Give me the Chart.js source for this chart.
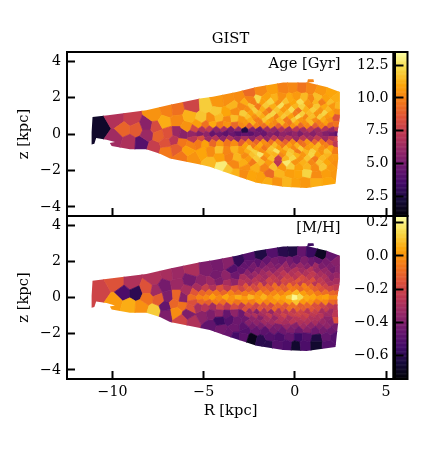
<!DOCTYPE html>
<html><head><meta charset="utf-8">
<style>html,body{margin:0;padding:0;background:#fff}canvas{position:absolute;left:0;top:0}</style>
<script src="https://cdn.jsdelivr.net/npm/chart.js@4/dist/chart.umd.js"></script>
</head><body>
<canvas id="top" width="431" height="451"></canvas>
<canvas id="bot" width="431" height="451"></canvas>
<script>
// Cells (one line per band)
const cellR=[
-10.66,-9.8,-8.95,-9.4,-8.7,-9.87,-9.1,-8.4,-8.1,-8.1,-7.7,-7.7,-7.63,-7.45,-6.95,-7.15,-6.95,-7.05,-7.1,-6.5,-6.45,-6.45,-6.6,-6.2,-6.5,-6.2,-5.6,-5.6,-6.15,-5.7,-4.85,-5.05,-4.6,-4.05,-3.6,-4.25,-3.6,-5.9,-5.75,-5.85,
-2.5,-1.83,-1.2,-0.64,-0.1,0.4,0.86,1.41,2.0,
-3.05,-2.52,-1.98,-1.57,-1.08,-0.72,-0.28,0.13,0.48,0.93,1.27,1.72,2.2,
-2.75,-2.3,-1.8,-1.33,-0.9,-0.5,-0.08,0.3,0.72,1.12,1.5,1.95,
-3.42,-2.86,-2.38,-2.02,-1.58,-1.22,-0.78,-0.42,0.02,0.38,0.83,1.18,1.63,2.03,2.4,
-2.6,-2.2,-1.78,-1.4,-1,-0.6,-0.2,0.2,0.6,1,1.42,1.8,
-4.32,-3.73,-3.27,-2.78,-2.42,-1.98,-1.62,-1.18,-0.82,-0.38,0.03,0.38,0.82,1.18,1.62,1.98,2.35,
-2.6,-2.2,-1.8,-1.42,-1.02,-0.62,-0.22,0.18,0.58,0.98,1.38,1.78,
-5.12,-4.58,-4.17,-3.68,-3.32,-2.88,-2.48,-2.12,-1.68,-1.32,-0.88,-0.52,-0.08,0.28,0.72,1.08,1.52,1.88,2.3,
-2.7,-2.3,-1.9,-1.5,-1.1,-0.7,-0.3,0.1,0.5,0.9,1.3,1.7,
-5.32,-4.88,-4.52,-4.08,-3.72,-3.28,-2.92,-2.48,-2.12,-1.68,-1.32,-0.88,-0.52,-0.08,0.32,0.68,1.12,1.48,1.92,2.3,
-5.5,-5.1,-4.7,-4.3,-3.9,-3.5,-3.1,-2.75,-2.35,-1.95,-1.55,-1.15,-0.75,-0.35,0.05,0.45,0.85,1.25,1.65,2.05,2.35,
-5.6,-5.2,-4.85,-4.5,-4.15,-3.8,-3.45,-3.1,-2.75,-2.4,-2.05,-1.7,-1.35,-1,-0.65,-0.3,0,0.3,0.65,1,1.35,1.7,2.05,2.3,
-5.55,-5.15,-4.75,-4.35,-3.95,-3.55,-3.15,-2.75,-2.35,-1.95,-1.55,-1.15,-0.75,-0.35,0.05,0.45,0.85,1.25,1.65,2.05,2.35,
-5.3,-4.9,-4.5,-4.1,-3.7,-3.3,-2.9,-2.5,-2.1,-1.7,-1.3,-0.9,-0.5,-0.1,0.3,0.7,1.1,1.5,1.9,2.3,
-2.72,-2.28,-1.92,-1.48,-1.12,-0.68,-0.32,0.12,0.48,0.92,1.28,1.72,
-4.62,-4.13,-3.72,-3.28,-2.92,-2.48,-2.12,-1.68,-1.32,-0.88,-0.52,-0.08,0.32,0.68,1.12,1.48,1.92,2.25,
-2.58,-2.2,-1.82,-1.4,-1,-0.62,-0.2,0.18,0.6,1,1.42,1.78,
-4.12,-3.58,-3.17,-2.68,-2.32,-1.88,-1.52,-1.08,-0.72,-0.28,0.12,0.48,0.92,1.28,1.77,2.25,
-2.55,-2.12,-1.7,-1.3,-0.9,-0.5,-0.1,0.3,0.7,1.1,1.52,1.95,
-3.3,-2.8,-2.3,-1.85,-1.4,-0.95,-0.45,0,0.45,0.9,1.35,1.75,2.25,
-2.7,-2.15,-1.65,-1.18,-0.7,-0.22,0.22,0.68,1.12,1.55,2,
-3.3,-2.75,-2.38,-1.83,-1.4,-0.85,-0.25,0.2,0.65,1.2,1.75,2.2,
-1.5,-0.95,-0.4,0.05,0.55,1.2,1.8];
const cellZ=[
0.3,0.8,0.8,0.24,0.24,-0.25,-0.45,-0.5,0.47,-0.04,-0.72,1.03,0.38,-0.1,1.25,0.66,0.02,-0.9,-0.5,1.3,0.75,0.07,-0.35,-0.45,-0.8,-1.25,-1.3,1.5,0,-0.6,1.55,-1,-1.55,-1.72,-2,1.75,1.85,0.4,0.95,-0.9,
2.2,2.3,2.45,2.52,2.58,2.55,2.52,2.3,2.2,
1.98,1.9,1.85,2.0,1.92,1.98,1.88,2.0,1.93,1.86,2.0,1.9,1.95,
1.72,1.7,1.78,1.74,1.7,1.77,1.72,1.76,1.7,1.75,1.72,1.7,
1.58,1.5,1.52,1.46,1.54,1.48,1.56,1.5,1.52,1.46,1.55,1.5,1.46,1.55,1.5,
1.33,1.28,1.34,1.3,1.27,1.34,1.3,1.27,1.33,1.3,1.27,1.33,
1.2,1.12,1.18,1.1,1.14,1.08,1.14,1.1,1.08,1.14,1.1,1.06,1.12,1.08,1.14,1.1,1.2,
0.94,0.9,0.96,0.92,0.95,0.9,0.96,0.92,0.9,0.95,0.92,0.96,
0.85,0.82,0.88,0.8,0.85,0.78,0.76,0.78,0.74,0.77,0.75,0.78,0.74,0.76,0.78,0.74,0.77,0.75,0.9,
0.62,0.6,0.64,0.6,0.63,0.6,0.62,0.6,0.64,0.6,0.62,0.6,
0.5,0.48,0.52,0.46,0.5,0.44,0.47,0.44,0.46,0.44,0.47,0.44,0.46,0.44,0.47,0.44,0.46,0.44,0.48,0.5,
0.24,0.2,0.26,0.2,0.24,0.2,0.24,0.15,0.22,0.2,0.26,0.2,0.24,0.2,0.26,0.2,0.24,0.2,0.26,0.2,0.24,
-0.02,0,-0.04,0.02,-0.03,0.03,-0.02,0.02,-0.04,0.03,-0.02,0.02,-0.04,0.02,-0.03,0.02,-0.02,0.02,-0.04,0.02,-0.03,0.02,-0.02,0,
-0.27,-0.24,-0.28,-0.24,-0.27,-0.24,-0.28,-0.24,-0.27,-0.24,-0.28,-0.24,-0.27,-0.24,-0.28,-0.24,-0.27,-0.24,-0.28,-0.24,-0.27,
-0.5,-0.52,-0.48,-0.5,-0.46,-0.5,-0.47,-0.45,-0.47,-0.45,-0.48,-0.45,-0.47,-0.45,-0.48,-0.45,-0.47,-0.45,-0.48,-0.55,
-0.63,-0.66,-0.62,-0.65,-0.62,-0.66,-0.63,-0.65,-0.62,-0.66,-0.63,-0.65,
-0.92,-0.88,-0.94,-0.86,-0.9,-0.8,-0.8,-0.78,-0.82,-0.78,-0.8,-0.78,-0.82,-0.78,-0.8,-0.78,-0.82,-0.92,
-0.97,-1,-0.96,-1,-0.97,-1,-0.96,-0.99,-1,-0.96,-1,-0.97,
-1.28,-1.22,-1.3,-1.18,-1.14,-1.12,-1.16,-1.12,-1.15,-1.12,-1.16,-1.12,-1.15,-1.12,-1.16,-1.3,
-1.36,-1.38,-1.34,-1.37,-1.34,-1.38,-1.35,-1.37,-1.34,-1.38,-1.35,-1.37,
-1.68,-1.62,-1.56,-1.54,-1.56,-1.6,-1.58,-1.54,-1.57,-1.54,-1.58,-1.55,-1.6,
-1.85,-1.8,-1.82,-1.78,-1.82,-1.78,-1.82,-1.78,-1.82,-1.78,-1.85,
-2.15,-2.15,-2.27,-2.4,-2.15,-2.15,-2.15,-2.15,-2.15,-2.27,-2.15,-2.15,
-2.65,-2.65,-2.65,-2.7,-2.65,-2.63,-2.65];
const cellAge=[
1.9,6.9,7.6,9.1,8.8,6.4,6.8,4.1,5.7,6.2,7.6,10.5,8.2,9,10,11.2,8.5,9.75,8.5,9.5,10.2,6.2,7.2,9.7,8.9,9.7,10.5,7.9,5.7,10,12,11,11.5,12.9,11.8,10.6,10.4,10.5,11.3,10.9,
9.3,10.2,10.8,10,10.2,9.6,10.1,10.6,11,
10.3,10,12.3,10.9,11.3,10.4,11.1,10.7,11.5,10.2,11.6,10.9,11.2,
11.2,9.9,10.8,12.2,10.4,11.7,11,12.4,10.6,11.4,9.9,11.6,
11.4,10.2,11.8,9.8,11.9,11.2,12.5,10.6,11.4,12.1,10.4,11.8,11.1,10.6,11.4,
10.4,12,11.2,9.7,11.8,10.7,12.4,9.6,11.3,12,10.5,11.5,
11.9,11,10.3,12,10.8,11.6,10.2,12.2,11.3,11.7,9.9,12,11.5,10.5,12.2,11,10.4,
11.7,10.4,11.2,12.1,10.1,11.9,10.8,12.5,10.2,11.6,12,10.7,
11.8,10.4,11.5,10.2,11.6,10.6,11.2,9.9,11.8,10.7,11.4,9.8,11.9,10.6,11.5,10.3,11.2,10.4,8.6,
10.6,11.3,9.8,11,10.2,11.4,9.6,11.1,10.4,11.5,9.9,10.8,
10.8,9.5,11.1,9.9,10.5,9.2,10.2,8.8,10,9.4,10.3,9,9.9,10.4,9.2,10.1,8.9,9.9,9.2,9.6,
8.1,6.9,7.5,5.8,6.6,5.2,5.9,2.6,5.6,4.8,6.4,6.1,6.9,6.2,7.2,6.5,7.4,6.3,7,6.1,7.6,
6,5.4,5.9,4.6,4.9,4.4,4.8,4.2,4.6,4.3,5,4.7,5.6,5.2,5.9,5.5,6,5.3,6.1,5.6,6.2,5.5,5,4.5,
7.2,8.3,6.3,7.1,5.9,6.8,5.6,6.7,5.8,7,6,7.4,6.5,7.1,6.2,7.3,6.6,7.5,6.3,7.2,8,
9.8,10.9,9.2,10.6,9.7,10.3,8.9,10,9.1,10.4,9.6,10.1,9,10.2,9.4,10.5,9.1,9.8,8.7,7.3,
10.9,9.8,11.1,10.2,11.5,9.7,10.8,11.3,9.6,10.9,11.4,10,
10.3,11.7,10.1,11.4,10.6,12,10.9,9.7,11.8,10.8,11.5,10.2,11.9,10.7,11.3,10.4,11,9.8,
11.3,12.1,10.4,11.5,12.6,10.7,11.8,9.8,11.4,12.1,10.5,11.7,
10.9,10,11.4,10.3,11.7,12.7,10.8,11.4,10.2,12,11.3,10.6,12.2,10.9,11.4,10.6,
10.7,11.9,10.2,11.6,7.6,11.4,12.2,10.5,11.8,9.8,11.5,10.6,
10.2,11.2,9.8,11.6,10.7,7.2,12.8,10.5,11.3,10.2,11.8,11,10.4,
10.4,11.3,10.1,11.7,10.6,12,10.9,11.4,10.3,11.9,10.7,
11.3,10.3,11,10.9,9.3,11.4,10.8,11,12.2,10.3,10.8,10.6,
11.2,10.5,11.4,10.9,10.6,11.2,11];
const cellMH=[
-0.2,-0.15,-0.28,-0.52,-0.59,0.02,0.06,0,-0.15,-0.07,0.12,-0.28,-0.32,-0.12,-0.3,-0.42,-0.4,-0.4,-0.46,-0.33,-0.33,-0.1,-0.1,-0.07,-0.01,-0.2,-0.28,-0.29,-0.38,-0.15,-0.4,-0.37,-0.47,-0.43,-0.45,-0.42,-0.38,-0.3,-0.42,-0.4,
-0.5,-0.62,-0.5,-0.6,-0.62,-0.46,-0.56,-0.68,-0.46,
-0.58,-0.47,-0.48,-0.46,-0.42,-0.44,-0.42,-0.46,-0.4,-0.44,-0.46,-0.42,-0.38,
-0.46,-0.42,-0.42,-0.38,-0.4,-0.34,-0.38,-0.34,-0.38,-0.32,-0.4,-0.4,
-0.5,-0.45,-0.43,-0.38,-0.36,-0.36,-0.3,-0.34,-0.28,-0.32,-0.27,-0.34,-0.34,-0.42,-0.38,
-0.37,-0.33,-0.32,-0.28,-0.3,-0.25,-0.28,-0.24,-0.28,-0.24,-0.3,-0.34,
-0.42,-0.36,-0.44,-0.3,-0.36,-0.28,-0.32,-0.24,-0.28,-0.22,-0.26,-0.18,-0.24,-0.28,-0.28,-0.36,-0.34,
-0.28,-0.26,-0.3,-0.2,-0.24,-0.18,-0.2,-0.14,-0.2,-0.16,-0.24,-0.3,
-0.36,-0.33,-0.4,-0.3,-0.36,-0.26,-0.3,-0.24,-0.28,-0.22,-0.26,-0.2,-0.17,-0.22,-0.18,-0.26,-0.24,-0.3,-0.3,
-0.14,-0.18,-0.12,-0.14,-0.08,-0.12,-0.06,-0.08,-0.04,-0.1,-0.14,-0.2,
-0.3,-0.22,-0.28,-0.16,-0.24,-0.14,-0.2,-0.12,-0.18,-0.1,-0.14,-0.08,-0.12,-0.06,-0.1,-0.05,-0.12,-0.16,-0.2,-0.24,
-0.14,-0.1,-0.08,-0.05,-0.1,-0.03,-0.08,-0.04,-0.05,0,-0.06,-0.02,-0.03,0.02,0.08,0.03,-0.02,-0.05,-0.08,-0.1,-0.12,
-0.08,-0.03,-0.02,0.03,-0.02,0.05,0,0.06,0.02,0.08,0.02,0.07,0.01,0.06,0.04,0.12,0.22,0.15,0.06,0.05,0.02,0.04,-0.02,-0.02,
-0.16,-0.1,-0.12,-0.05,-0.08,-0.02,-0.07,-0.01,-0.04,0.02,-0.03,0.01,0,0.05,0.1,0.02,0.01,-0.05,-0.02,-0.09,-0.12,
-0.3,-0.26,-0.32,-0.2,-0.26,-0.18,-0.24,-0.14,-0.2,-0.16,-0.18,-0.1,-0.14,-0.08,-0.12,-0.1,-0.16,-0.2,-0.24,-0.26,
-0.16,-0.2,-0.14,-0.16,-0.1,-0.14,-0.08,-0.1,-0.12,-0.14,-0.16,-0.22,
-0.4,-0.34,-0.46,-0.36,-0.44,-0.33,-0.38,-0.28,-0.34,-0.27,-0.25,-0.24,-0.2,-0.26,-0.22,-0.3,-0.32,-0.25,
-0.3,-0.28,-0.3,-0.24,-0.26,-0.2,-0.22,-0.2,-0.2,-0.24,-0.26,-0.32,
-0.56,-0.5,-0.44,-0.44,-0.36,-0.38,-0.3,-0.34,-0.26,-0.3,-0.26,-0.24,-0.28,-0.28,-0.36,-0.16,
-0.38,-0.36,-0.32,-0.32,-0.28,-0.3,-0.26,-0.28,-0.28,-0.3,-0.34,-0.38,
-0.44,-0.48,-0.42,-0.4,-0.36,-0.4,-0.34,-0.38,-0.32,-0.36,-0.38,-0.36,-0.42,
-0.5,-0.46,-0.48,-0.42,-0.44,-0.4,-0.44,-0.38,-0.44,-0.42,-0.44,
-0.54,-0.48,-0.7,-0.6,-0.5,-0.52,-0.46,-0.55,-0.5,-0.62,-0.46,-0.5,
-0.6,-0.5,-0.52,-0.66,-0.52,-0.66,-0.5];
// Outline of the binned region
const edgeR=[-11.15,-11.1,-10.25,-8.15,-6.85,-5.2,-4.5,-3.2,-2.1,-0.64,0.68,0.72,1.02,1.05,0.72,1.74,2.47,2.47,2.33,2.38,2.23,0.64,-0.64,-2.1,-3.57,-4.67,-5.2,-6.85,-7.4,-8.15,-9.05,-10.05,-10.15,-9.87,-10.33,-10.9,-11,-11.15];
const edgeZ=[0.1,0.93,1.03,1.3,1.6,1.95,2.05,2.3,2.58,2.82,2.83,3.0,3.0,2.86,2.83,2.58,2.3,0.9,0,-1.35,-2.73,-2.96,-2.9,-2.67,-2.18,-1.8,-1.68,-1.35,-1.08,-0.84,-0.84,-0.66,-0.5,-0.44,-0.31,-0.22,-0.53,-0.57];
const xTicks=[-10,-5,0,5];
const zTicks=[-4,-2,0,2,4];
const ageTicks=[2.5,5,7.5,10,12.5];
const mhTicks=[-0.6,-0.4,-0.2,0,0.2];
const ageRange=[1,13.5];
const mhRange=[-0.74,0.24];
const xLabel='R [kpc]', zLabel='z [kpc]', title='GIST';

if(cellR.length!==cellZ.length||cellR.length!==cellAge.length||cellR.length!==cellMH.length)
  throw new Error('lengths '+[cellR.length,cellZ.length,cellAge.length,cellMH.length]);

const INFERNO=['#000004','#160b39','#420a68','#6a176e','#932667','#bc3754','#dd513a','#f37819','#fca50a','#f6d746','#fcffa4']
  .map(h=>[1,3,5].map(i=>parseInt(h.substr(i,2),16)));
function inferno(t){t=Math.min(1,Math.max(0,t))*10;const i=Math.min(9,Math.floor(t)),f=t-i,a=INFERNO[i],b=INFERNO[i+1];
  return 'rgb('+[0,1,2].map(k=>Math.round(a[k]+(b[k]-a[k])*f)).join(',')+')';}
const FONT='"DejaVu Serif"', FS=14.2, TS=14.7;
const fmt=v=>(v<0?'\u2212':'')+Math.abs(v);
const fmt1=v=>(v<0?'\u2212':'')+Math.abs(v).toFixed(1);

class CellController extends Chart.ScatterController{
  draw(){
    const ctx=this.chart.ctx,meta=this.getMeta(),area=this.chart.chartArea;
    const sx=this.chart.scales.x,sy=this.chart.scales.y;
    const ds=this.getDataset(),[lo,hi]=ds.range;
    const pts=meta.data.map((e,i)=>({x:e.x,y:e.y,v:ds.data[i].v}));
    ctx.save();ctx.beginPath();
    edgeR.forEach((r,i)=>{const px=sx.getPixelForValue(r),py=sy.getPixelForValue(edgeZ[i]);i?ctx.lineTo(px,py):ctx.moveTo(px,py);});
    ctx.closePath();ctx.clip();
    pts.forEach((p,i)=>{
      let poly=[[area.left,area.top],[area.right,area.top],[area.right,area.bottom],[area.left,area.bottom]];
      pts.forEach((q,j)=>{
        if(i===j||!poly.length)return;
        const mx=(p.x+q.x)/2,my=(p.y+q.y)/2,nx=q.x-p.x,ny=q.y-p.y,out=[];
        for(let k=0;k<poly.length;k++){
          const a=poly[k],b=poly[(k+1)%poly.length];
          const da=(a[0]-mx)*nx+(a[1]-my)*ny,db=(b[0]-mx)*nx+(b[1]-my)*ny;
          if(da<=0)out.push(a);
          if((da<0&&db>0)||(da>0&&db<0)){const t=da/(da-db);out.push([a[0]+(b[0]-a[0])*t,a[1]+(b[1]-a[1])*t]);}
        }
        poly=out;
      });
      if(!poly.length)return;
      const c=inferno((p.v-lo)/(hi-lo));
      ctx.beginPath();poly.forEach((a,k)=>k?ctx.lineTo(a[0],a[1]):ctx.moveTo(a[0],a[1]));ctx.closePath();
      ctx.fillStyle=c;ctx.strokeStyle=c;ctx.lineWidth=0.7;ctx.fill();ctx.stroke();
    });
    ctx.restore();
  }
}
CellController.id='cells';
CellController.defaults=Chart.ScatterController.defaults;
CellController.overrides=Chart.ScatterController.overrides;
Chart.register(CellController);

const decor={
  id:'decor',
  afterLayout(chart){const cb=chart.scales.cb;cb.left=395.5;cb.right=407.5;},
  beforeDraw(chart){
    const cb=chart.scales.cb,[lo,hi]=chart.options.plugins.decor.range,ctx=chart.ctx;
    for(let i=0;i<200;i++){
      const v0=lo+(hi-lo)*i/200,v1=lo+(hi-lo)*(i+1)/200;
      const y0=cb.getPixelForValue(v0),y1=cb.getPixelForValue(v1);
      ctx.fillStyle=inferno((i+0.5)/200);
      ctx.fillRect(395.5,y1,12,y0-y1+0.5);
    }
  },
  afterDatasetsDraw(chart){
    const ctx=chart.ctx,a=chart.chartArea;
    ctx.save();ctx.strokeStyle='#000';ctx.lineWidth=2;
    ctx.strokeRect(a.left,a.top,a.right-a.left,a.bottom-a.top);
    ctx.strokeRect(395,a.top,12.5,a.bottom-a.top);
    ctx.restore();
  },
  afterDraw(chart){
    const ctx=chart.ctx;
    ctx.save();ctx.fillStyle='#000';ctx.font=TS+'px '+FONT;
    chart.options.plugins.decor.texts.forEach(t=>{
      ctx.save();ctx.translate(t.x,t.y);if(t.rot)ctx.rotate(t.rot);
      ctx.textAlign=t.align||'center';ctx.textBaseline='alphabetic';ctx.fillText(t.s,0,0);ctx.restore();
    });
    ctx.restore();
  }
};

function panel(id,values,range,cbTicks,texts,padTop,padBottom,showX){
  const forced=w=>s=>{s.width=w;};
  const tickOpts={tickLength:-8,tickWidth:2,tickColor:'#000',drawOnChartArea:false};
  return new Chart(document.getElementById(id),{
    data:{datasets:[{type:'cells',range,pointRadius:0,xAxisID:'x',yAxisID:'y',
      data:cellR.map((r,i)=>({x:r,y:cellZ[i],v:values[i]}))}]},
    options:{
      responsive:false,animation:false,events:[],
      layout:{autoPadding:false,padding:{left:0,right:23.7,top:padTop,bottom:showX?0:padBottom}},
      plugins:{legend:{display:false},tooltip:{enabled:false},decor:{range,texts}},
      scales:{
        x:{type:'linear',axis:'x',position:'bottom',min:-12.5,max:5.4,
          border:{display:false},grid:tickOpts,
          ticks:{display:showX,autoSkip:false,maxRotation:0,padding:13,color:'#000',font:{family:FONT,size:FS},callback:fmt},
          afterBuildTicks:s=>{s.ticks=xTicks.map(value=>({value}));},
          afterFit:s=>{s.height=showX?padBottom:0;}},
        y:{type:'linear',axis:'y',position:'left',min:-4.5,max:4.5,
          border:{display:false},grid:tickOpts,
          ticks:{autoSkip:false,padding:14,color:'#000',font:{family:FONT,size:FS},callback:fmt},
          afterBuildTicks:s=>{s.ticks=zTicks.map(value=>({value}));},
          afterFit:forced(67)},
        cb:{type:'linear',axis:'y',position:'right',min:range[0],max:range[1],
          border:{display:false},
          grid:{tickLength:8,tickWidth:2,tickColor:'#000',drawOnChartArea:false},
          ticks:{mirror:true,autoSkip:false,padding:-7,color:'#000',font:{family:FONT,size:FS},callback:fmt1},
          afterBuildTicks:s=>{s.ticks=cbTicks.map(value=>({value}));},
          afterFit:forced(14)}
      }
    },
    plugins:[decor]
  });
}
panel('top',cellAge,ageRange,ageTicks,[
  {s:title,x:230.5,y:43},
  {s:'Age [Gyr]',x:340.5,y:68,align:'right'},
  {s:zLabel,x:28,y:134,rot:-Math.PI/2}
],52,235,false);
panel('bot',cellMH,mhRange,mhTicks,[
  {s:'[M/H]',x:340.5,y:232,align:'right'},
  {s:zLabel,x:28,y:297.5,rot:-Math.PI/2},
  {s:xLabel,x:230.5,y:415}
],216,72,true);
</script>
</body></html>
